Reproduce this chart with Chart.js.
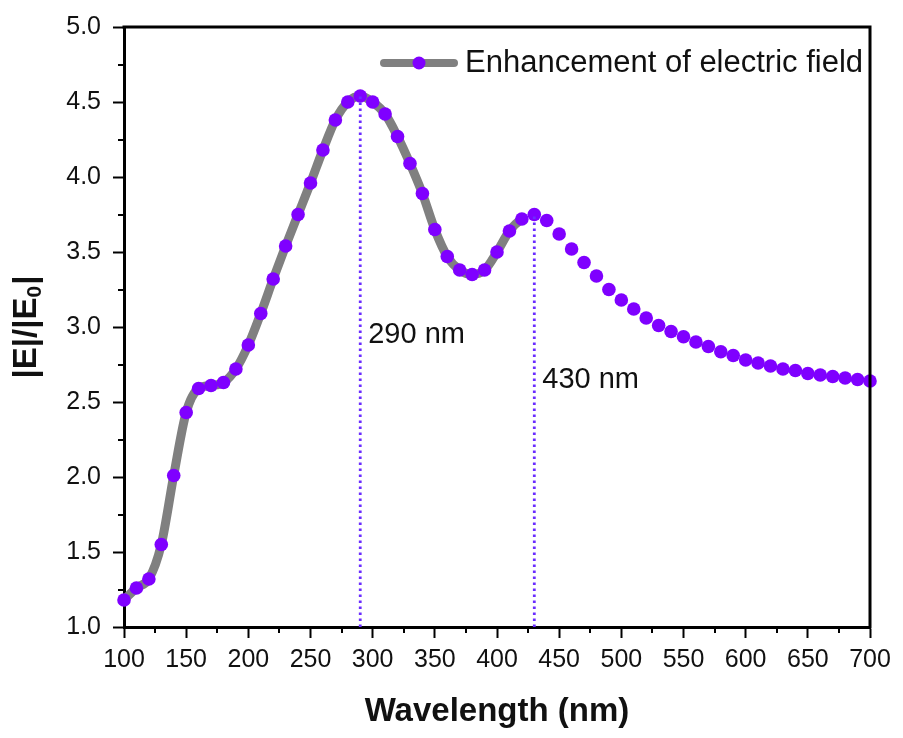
<!DOCTYPE html>
<html>
<head>
<meta charset="utf-8">
<script src="https://cdn.jsdelivr.net/npm/chart.js@4.4.1/dist/chart.umd.min.js"></script>
<style>
  html, body { margin: 0; padding: 0; background: #fff; }
  #wrap { width: 903px; height: 738px; }
</style>
</head>
<body>
<div id="wrap"><canvas id="c" width="903" height="738"></canvas></div>
<script>
// ---- data ----
const wavelengths = [100,110,120,130,140,150,160,170,180,190,
  200,210,220,230,240,250,260,270,280,290,
  300,310,320,330,340,350,360,370,380,390,
  400,410,420,430,440,450,460,470,480,490,
  500,510,520,530,540,550,560,570,580,590,
  600,610,620,630,640,650,660,670,680,690,700];
const enhancement = [1.18,1.26,1.32,1.55,2.01,2.43,2.59,2.61,2.63,2.72,
  2.88,3.09,3.32,3.54,3.75,3.96,4.18,4.38,4.50,4.54,
  4.50,4.42,4.27,4.09,3.89,3.65,3.47,3.38,3.35,3.38,
  3.50,3.64,3.72,3.75,3.71,3.62,3.52,3.43,3.34,3.25,
  3.18,3.12,3.06,3.01,2.97,2.935,2.90,2.87,2.835,2.81,
  2.78,2.76,2.74,2.72,2.71,2.69,2.68,2.67,2.66,2.65,2.64];
const greyLineEnd = 420;           // the grey connecting line stops here in the reference
const peakWavelengths = [290, 430];
const peakLabels = ['290 nm', '430 nm'];
const peakLabelY = [2.95, 2.65];
const seriesName = 'Enhancement of electric field';
const xTitle = 'Wavelength (nm)';
const yTitleMain = '|E|/|E';
const yTitleSub = '0';
const yTitleEnd = '|';

const PURPLE = '#7f00ff';
const GREY = '#808080';
const DOT = '#6a2cff';
const FONT = "'Liberation Sans', Arial, sans-serif";

const mainData = wavelengths.map((w, i) => ({x: w, y: enhancement[i]}));
const peakDatasets = peakWavelengths.map(w => {
  const yv = enhancement[wavelengths.indexOf(w)];
  return {
    label: 'peak ' + w,
    data: [{x: w, y: 1}, {x: w, y: yv}],
    borderColor: DOT,
    borderWidth: 2.8,
    borderDash: [2.5, 3.5],
    pointRadius: 0,
    fill: false,
    clip: false
  };
});

const framePlugin = {
  id: 'frameAndExtras',
  afterDraw(chart) {
    const {ctx, chartArea: a, scales: {x, y}} = chart;
    ctx.save();
    // minor ticks
    ctx.strokeStyle = '#000';
    ctx.lineWidth = 2;
    for (let v = 125; v < 700; v += 50) {
      const px = Math.round(x.getPixelForValue(v));
      ctx.beginPath(); ctx.moveTo(px, a.bottom); ctx.lineTo(px, a.bottom + 6); ctx.stroke();
    }
    for (let v = 1.25; v < 5; v += 0.5) {
      const py = Math.round(y.getPixelForValue(v));
      ctx.beginPath(); ctx.moveTo(a.left, py); ctx.lineTo(a.left - 6, py); ctx.stroke();
    }
    // frame top & right
    ctx.lineWidth = 3;
    ctx.beginPath();
    ctx.moveTo(a.left - 1.5, a.top);
    ctx.lineTo(a.right, a.top);
    ctx.lineTo(a.right, a.bottom + 1.5);
    ctx.stroke();
    // peak labels
    ctx.fillStyle = '#111';
    ctx.font = '29px ' + FONT;
    ctx.textBaseline = 'middle';
    ctx.textAlign = 'left';
    peakWavelengths.forEach((w, i) => {
      ctx.fillText(peakLabels[i], x.getPixelForValue(w) + 8, y.getPixelForValue(peakLabelY[i]));
    });
    // legend
    const ly = a.top + 36;
    const lx0 = a.right - 490, lx1 = a.right - 412;
    ctx.strokeStyle = GREY;
    ctx.lineWidth = 8;
    ctx.lineCap = 'round';
    ctx.beginPath(); ctx.moveTo(lx0 + 4, ly); ctx.lineTo(lx1 - 4, ly); ctx.stroke();
    ctx.fillStyle = PURPLE;
    ctx.beginPath(); ctx.arc((lx0 + lx1) / 2, ly, 6.5, 0, Math.PI * 2); ctx.fill();
    ctx.fillStyle = '#111';
    ctx.font = '31px ' + FONT;
    ctx.fillText(seriesName, lx1 + 7, ly);
    // y axis title with subscript
    const bigF = 'bold 33px ' + FONT, subF = 'bold 21px ' + FONT;
    ctx.font = bigF; const w1 = ctx.measureText(yTitleMain).width; const w3 = ctx.measureText(yTitleEnd).width;
    ctx.font = subF; const w2 = ctx.measureText(yTitleSub).width;
    const total = w1 + w2 + w3 + 1;
    ctx.translate(24, (a.top + a.bottom) / 2);
    ctx.rotate(-Math.PI / 2);
    ctx.textBaseline = 'alphabetic';
    let cx = -total / 2;
    ctx.font = bigF; ctx.fillText(yTitleMain, cx, 12); cx += w1;
    ctx.font = subF; ctx.fillText(yTitleSub, cx, 17); cx += w2 + 1;
    ctx.font = bigF; ctx.fillText(yTitleEnd, cx, 12);
    ctx.restore();
  }
};

new Chart(document.getElementById('c'), {
  type: 'line',
  data: {
    datasets: [
      ...peakDatasets,
      {
        label: seriesName,
        data: mainData,
        borderColor: GREY,
        borderWidth: 9,
        segment: {
          borderColor: ctx => ctx.p0.parsed.x >= greyLineEnd ? 'rgba(0,0,0,0)' : GREY
        },
        pointRadius: 6.8,
        pointHoverRadius: 6.8,
        pointBackgroundColor: PURPLE,
        pointBorderColor: PURPLE,
        pointBorderWidth: 0,
        cubicInterpolationMode: 'monotone',
        fill: false,
        clip: false
      }
    ]
  },
  options: {
    responsive: false,
    animation: false,
    events: [],
    layout: { padding: { top: 24, right: 33, left: 0, bottom: 0 } },
    plugins: {
      legend: { display: false },
      tooltip: { enabled: false }
    },
    scales: {
      x: {
        type: 'linear',
        min: 100, max: 700,
        afterFit: s => { s.height = 111; },
        ticks: {
          stepSize: 50,
          color: '#111',
          font: { family: FONT, size: 25 },
          padding: 7,
          maxRotation: 0,
          autoSkip: false
        },
        grid: {
          display: true, drawOnChartArea: false, drawTicks: true,
          tickLength: 11, tickWidth: 2, tickColor: '#000'
        },
        border: { display: true, width: 3, color: '#000' },
        title: {
          display: true, text: xTitle, color: '#111',
          font: { family: FONT, size: 33, weight: 'bold' },
          padding: { top: 0, bottom: 6 }
        }
      },
      y: {
        min: 1, max: 5,
        afterFit: s => { s.width = 124; },
        ticks: {
          stepSize: 0.5,
          color: '#111',
          font: { family: FONT, size: 25 },
          padding: 12,
          callback: v => Number(v).toFixed(1)
        },
        grid: {
          display: true, drawOnChartArea: false, drawTicks: true,
          tickLength: 11, tickWidth: 2, tickColor: '#000'
        },
        border: { display: true, width: 3, color: '#000' },
        title: { display: false }
      }
    }
  },
  plugins: [framePlugin]
});
</script>
</body>
</html>
